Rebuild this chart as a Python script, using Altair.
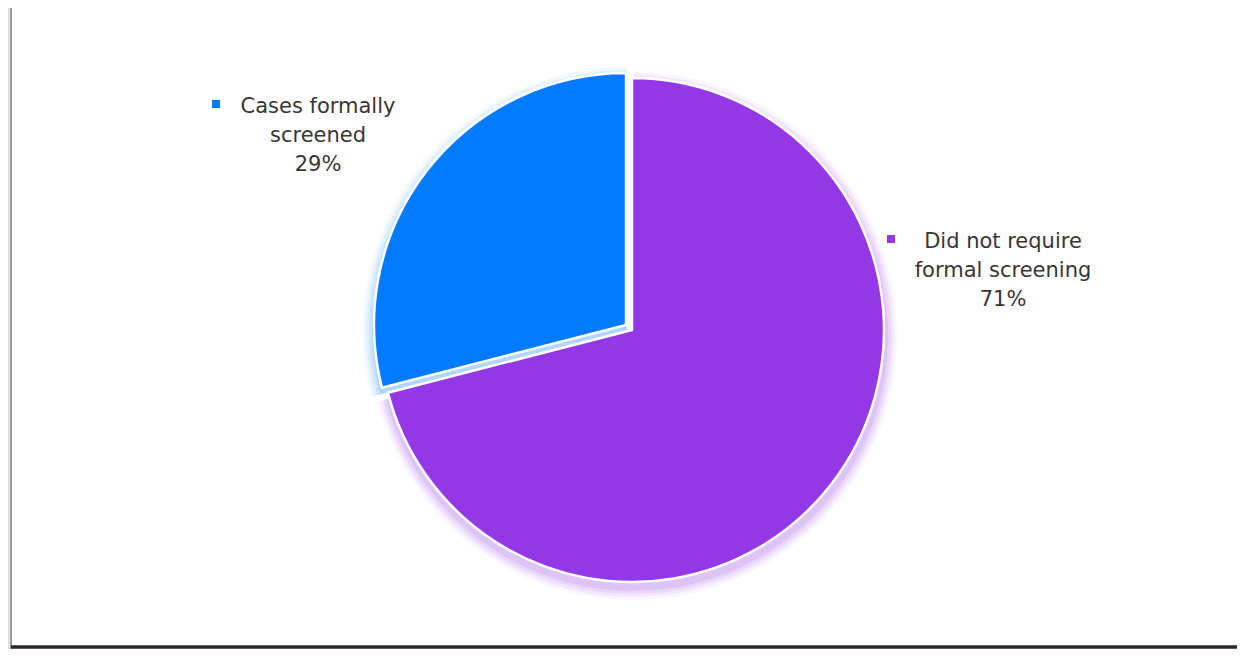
import altair as alt
import pandas as pd

# ---- data ----
categories = ["Did not require formal screening", "Cases formally screened"]
label_lines = ["Did not require\nformal screening", "Cases formally\nscreened"]
values = [71, 29]
colors = ["#9437E6", "#007BFF"]

# cumulative angles (in percent units), purple starts at top going clockwise
starts, ends = [], []
acc = 0
for v in values:
    starts.append(acc)
    acc += v
    ends.append(acc)

df = pd.DataFrame({
    "category": categories,
    "value": values,
    "start": starts,
    "end": ends,
    "text": [f"{l}\n{v}%" for l, v in zip(label_lines, values)],
})

# ---- layout (pixels inside the chart) ----
W, H = 1229, 641
centers = {categories[0]: (624, 322), categories[1]: (618, 317)}
R = 252
label_pos = {categories[0]: (995, 234), categories[1]: (310, 99)}
marker_pos = {categories[0]: (883, 231), categories[1]: (208, 96)}

theta_scale = alt.Scale(domain=[0, 100], range=[0, 6.283185307])

layers = []

# shadow on the left frame edge
for i, op in enumerate([0.04, 0.06, 0.09, 0.13, 0.18]):
    layers.append(
        alt.Chart(df).mark_rule(color="#808080", strokeWidth=1, opacity=op).encode(
            x=alt.value(-3 + i), y=alt.value(0), y2=alt.value(H)
        )
    )

# soft glow / shadow
for cat, col in zip(categories, colors):
    cx, cy = centers[cat]
    for k, op in [(12, 0.05), (9, 0.07), (6, 0.09), (3, 0.12)]:
        layers.append(
            alt.Chart(df).transform_filter(alt.datum.category == cat).mark_arc(
                color=col, opacity=op, outerRadius=R + k
            ).encode(
                theta=alt.Theta("start:Q", scale=theta_scale),
                theta2="end:Q",
                x=alt.value(cx + 1),
                y=alt.value(cy + 6),
            )
        )

# main slices
for cat, col in zip(categories, colors):
    cx, cy = centers[cat]
    layers.append(
        alt.Chart(df).transform_filter(alt.datum.category == cat).mark_arc(
            color=col, outerRadius=R, stroke="white", strokeWidth=2.5, strokeJoin="miter"
        ).encode(
            theta=alt.Theta("start:Q", scale=theta_scale),
            theta2="end:Q",
            x=alt.value(cx),
            y=alt.value(cy),
        )
    )

# labels
for cat, col in zip(categories, colors):
    lx, ly = label_pos[cat]
    mx, my = marker_pos[cat]
    layers.append(
        alt.Chart(df).transform_filter(alt.datum.category == cat).mark_text(
            font="DejaVu Sans", fontSize=21, color="#3A3535", align="center",
            baseline="middle", lineBreak="\n", lineHeight=29
        ).encode(text="text:N", x=alt.value(lx), y=alt.value(ly))
    )
    layers.append(
        alt.Chart(df).transform_filter(alt.datum.category == cat).mark_square(
            color=col, size=64, opacity=1
        ).encode(x=alt.value(mx), y=alt.value(my))
    )

# frame edges
layers.append(
    alt.Chart(df).mark_rule(color="#9A9A9A", strokeWidth=2).encode(
        x=alt.value(3), y=alt.value(0), y2=alt.value(H)
    )
)
layers.append(
    alt.Chart(df).mark_rule(color="#2E2828", strokeWidth=3).encode(
        x=alt.value(3), x2=alt.value(W), y=alt.value(H - 2)
    )
)

chart = alt.layer(*layers).properties(
    width=W, height=H, padding=0, autosize=alt.AutoSizeParams(type="none")
).configure_view(stroke=None)

chart.save("out.html", embed_options={"renderer": "svg", "actions": False})
